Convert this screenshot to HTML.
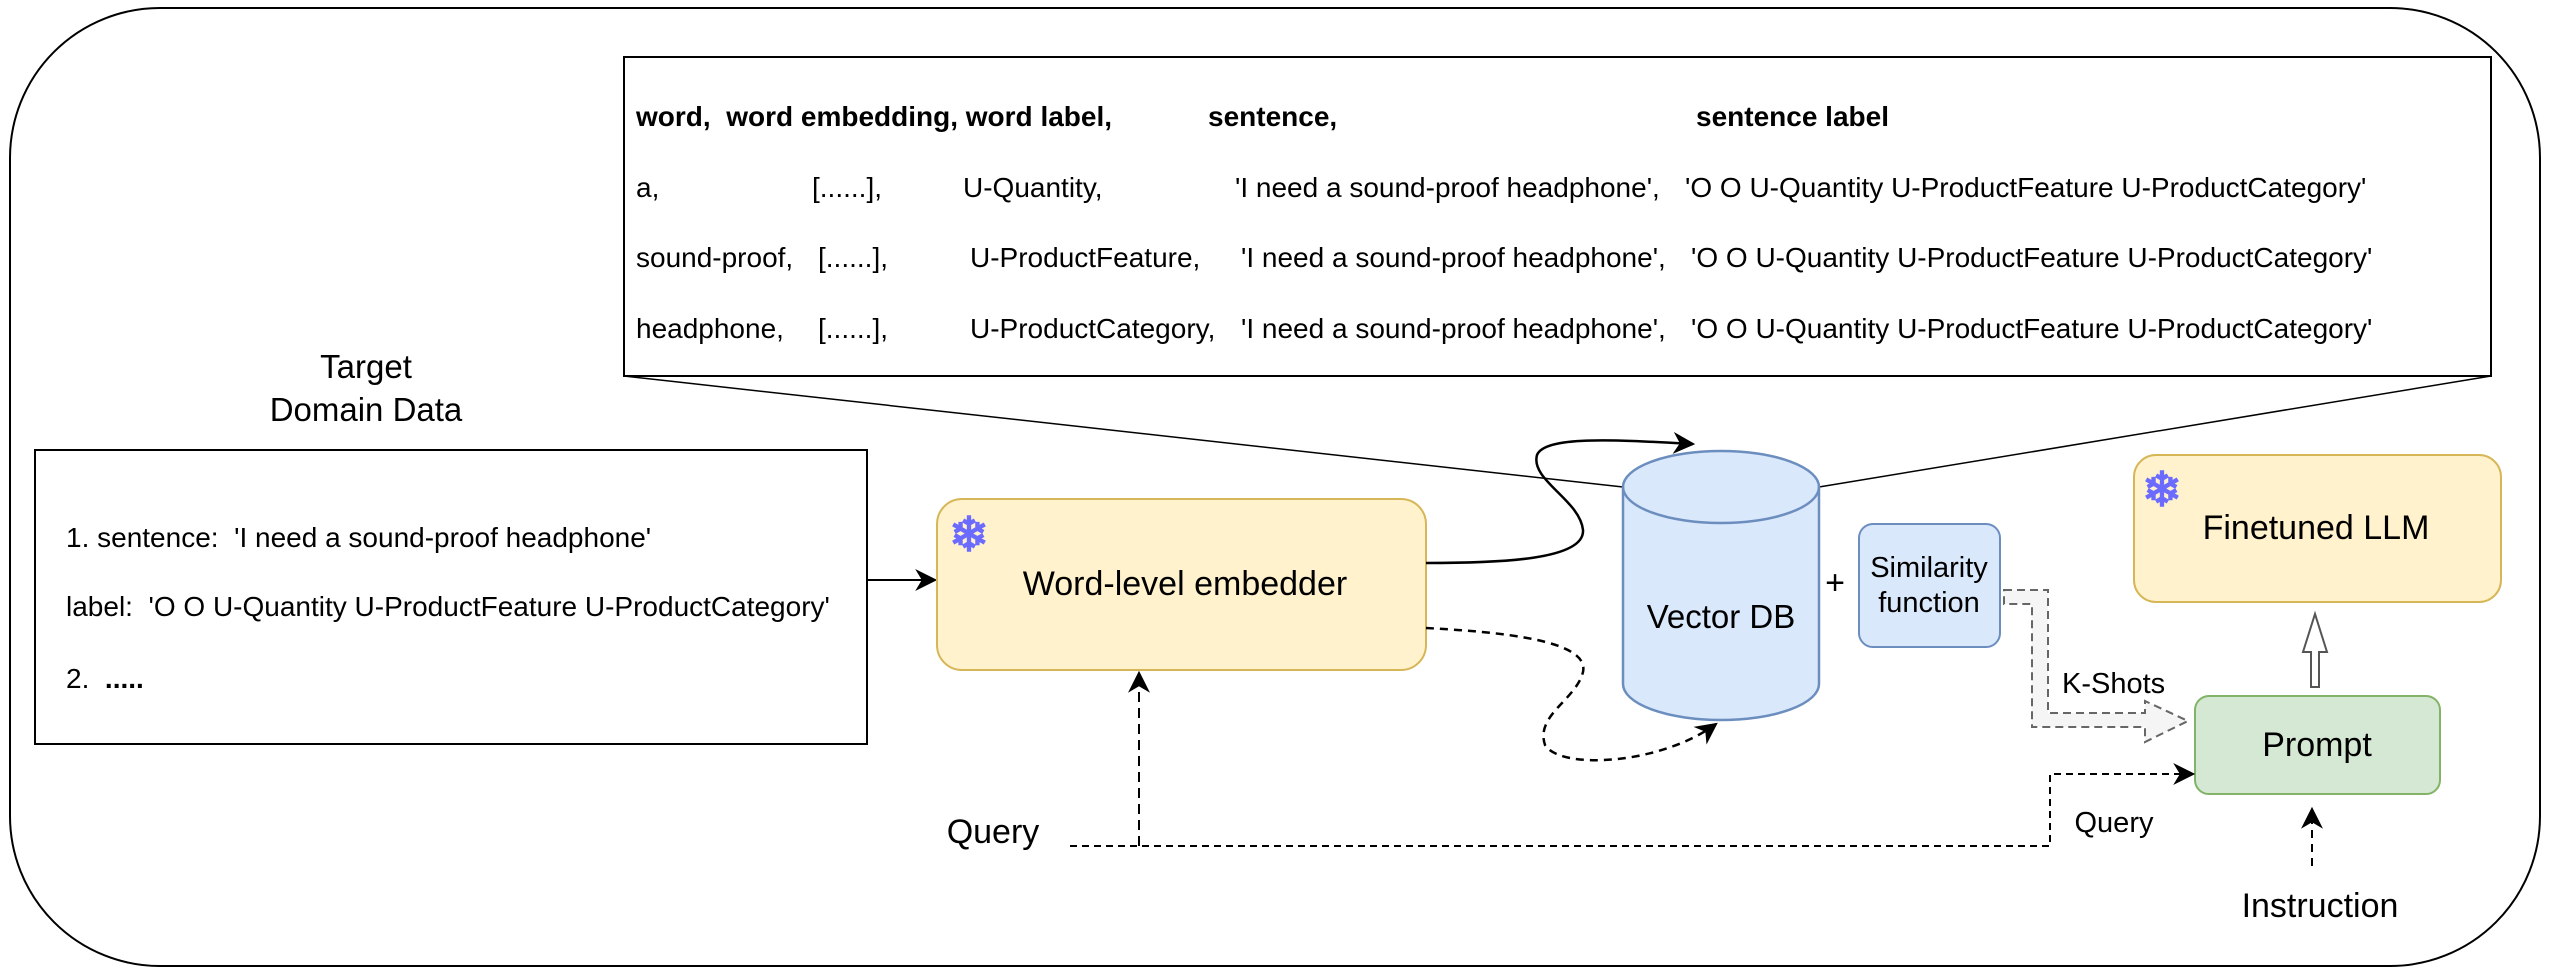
<!DOCTYPE html>
<html><head><meta charset="utf-8"><style>
html,body{margin:0;padding:0;background:#fff;}
svg{display:block;}
text{font-family:"Liberation Sans",Arial,sans-serif;fill:#000;white-space:pre;}
</style></head><body>
<svg width="2556" height="975" viewBox="0 0 2556 975" xmlns="http://www.w3.org/2000/svg" xml:space="preserve">
<defs>
<marker id="ah2" viewBox="0 0 10 10" refX="9" refY="5" markerWidth="22" markerHeight="22" markerUnits="userSpaceOnUse" orient="auto">
<path d="M0,0 L10,5 L0,10 L3,5 Z" fill="#000"/></marker>
</defs>
<rect x="10" y="8" width="2530" height="958" rx="150" ry="150" fill="#fff" stroke="#000" stroke-width="2"/>
<line x1="624" y1="376" x2="1623" y2="487" stroke="#000" stroke-width="1.5"/>
<line x1="2491" y1="376" x2="1819" y2="487" stroke="#000" stroke-width="1.5"/>
<rect x="624" y="57" width="1867" height="319" fill="#fff" stroke="#000" stroke-width="2"/>
<g font-size="28">
<text x="636" y="126" font-weight="bold">word,  word embedding, word label,</text>
<text x="1208" y="126" font-weight="bold">sentence,</text>
<text x="1696" y="126" font-weight="bold">sentence label</text>
<text x="636" y="197">a,</text><text x="812" y="197">[......],</text><text x="963" y="197">U-Quantity,</text>
<text x="1235" y="197">'I need a sound-proof headphone',</text><text x="1685" y="197">'O O U-Quantity U-ProductFeature U-ProductCategory'</text>
<text x="636" y="267">sound-proof,</text><text x="818" y="267">[......],</text><text x="970" y="267">U-ProductFeature,</text>
<text x="1241" y="267">'I need a sound-proof headphone',</text><text x="1691" y="267">'O O U-Quantity U-ProductFeature U-ProductCategory'</text>
<text x="636" y="338">headphone,</text><text x="818" y="338">[......],</text><text x="970" y="338">U-ProductCategory,</text>
<text x="1241" y="338">'I need a sound-proof headphone',</text><text x="1691" y="338">'O O U-Quantity U-ProductFeature U-ProductCategory'</text>
</g>
<text x="366" y="378" font-size="33" text-anchor="middle">Target</text>
<text x="366" y="421" font-size="33" text-anchor="middle">Domain Data</text>
<rect x="35" y="450" width="832" height="294" fill="#fff" stroke="#000" stroke-width="2"/>
<g font-size="28">
<text x="66" y="547">1. sentence:  'I need a sound-proof headphone'</text>
<text x="66" y="616">label:  'O O U-Quantity U-ProductFeature U-ProductCategory'</text>
<text x="66" y="688">2.  <tspan font-weight="bold">.....</tspan></text>
</g>
<line x1="867" y1="580" x2="935" y2="580" stroke="#000" stroke-width="2" marker-end="url(#ah2)"/>
<rect x="937" y="499" width="489" height="171" rx="25" fill="#fff2cc" stroke="#d6b656" stroke-width="2"/>
<text x="969" y="551" font-size="48" font-weight="bold" style="fill:#6b6bff" text-anchor="middle">❄</text>
<text x="1185" y="595" font-size="34" text-anchor="middle">Word-level embedder</text>
<path d="M1426,563 C1500,563 1585,560 1583,530 C1580,500 1530,480 1537,455 C1545,435 1620,440 1693,444" fill="none" stroke="#000" stroke-width="2.5" marker-end="url(#ah2)"/>
<path d="M1426,628 C1500,632 1590,640 1583,672 C1576,700 1535,715 1545,745 C1560,770 1660,765 1716,724" fill="none" stroke="#000" stroke-width="2.5" stroke-dasharray="8,6" marker-end="url(#ah2)"/>
<path d="M1623,487 L1623,684 A98,36 0 0 0 1819,684 L1819,487 A98,36 0 0 0 1623,487 Z" fill="#dae8fc" stroke="#6c8ebf" stroke-width="2.5"/>
<path d="M1623,487 A98,36 0 0 0 1819,487" fill="none" stroke="#6c8ebf" stroke-width="2.5"/>
<text x="1721" y="628" font-size="33" text-anchor="middle">Vector DB</text>
<text x="1835" y="594" font-size="34" text-anchor="middle">+</text>
<rect x="1859" y="524" width="141" height="123" rx="14" fill="#dae8fc" stroke="#6c8ebf" stroke-width="2"/>
<text x="1929" y="577" font-size="29" text-anchor="middle">Similarity</text>
<text x="1929" y="612" font-size="29" text-anchor="middle">function</text>
<path d="M2004,590 L2048,590 L2048,713 L2145,713 L2145,701 L2188,721 L2145,742 L2145,727 L2032,727 L2032,604 L2004,604 Z" fill="#f5f5f5" stroke="#666" stroke-width="2" stroke-dasharray="8,5"/>
<text x="2062" y="693" font-size="29">K-Shots</text>
<rect x="2134" y="455" width="367" height="147" rx="22" fill="#fff2cc" stroke="#d6b656" stroke-width="2"/>
<text x="2162" y="506" font-size="48" font-weight="bold" style="fill:#6b6bff" text-anchor="middle">❄</text>
<text x="2316" y="539" font-size="34" text-anchor="middle">Finetuned LLM</text>
<rect x="2195" y="696" width="245" height="98" rx="14" fill="#d5e8d4" stroke="#82b366" stroke-width="2"/>
<text x="2317" y="756" font-size="34" text-anchor="middle">Prompt</text>
<path d="M2311,687 L2311,652 L2303,652 L2315,614 L2327,652 L2319,652 L2319,687 Z" fill="#fff" stroke="#555" stroke-width="2"/>
<line x1="2312" y1="866" x2="2312" y2="809" stroke="#000" stroke-width="2" stroke-dasharray="8,6" marker-end="url(#ah2)"/>
<text x="2320" y="917" font-size="34" text-anchor="middle">Instruction</text>
<text x="993" y="843" font-size="34" text-anchor="middle">Query</text>
<path d="M1070,846 L2050,846 L2050,774 L2193,774" fill="none" stroke="#000" stroke-width="2" stroke-dasharray="7,5" marker-end="url(#ah2)"/>
<line x1="1139" y1="846" x2="1139" y2="673" stroke="#000" stroke-width="2" stroke-dasharray="10,6" marker-end="url(#ah2)"/>
<text x="2114" y="832" font-size="29" text-anchor="middle">Query</text>
</svg>
</body></html>
